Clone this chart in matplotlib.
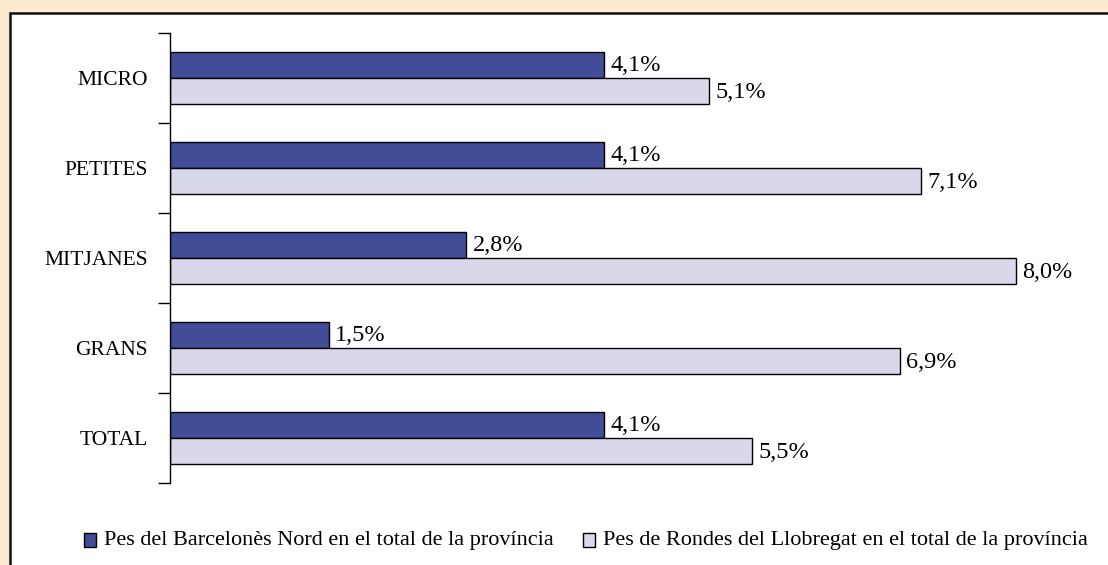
import matplotlib.pyplot as plt
from matplotlib.patches import Rectangle

plt.rcParams['font.family'] = ['Liberation Serif', 'DejaVu Serif']

# dades
categories = ["MICRO", "PETITES", "MITJANES", "GRANS", "TOTAL"]
barcelones_nord = [4.1, 4.1, 2.8, 1.5, 4.1]
rondes_llobregat = [5.1, 7.1, 8.0, 6.9, 5.5]
legend_labels = ["Pes del Barcelonès Nord en el total de la província",
                 "Pes de Rondes del Llobregat en el total de la província"]

dark = '#434C96'
light = '#D9D8EA'

fig = plt.figure(figsize=(11.08, 5.65), dpi=100)
fig.patch.set_facecolor('#FCEBCF')

# panell blanc amb vora
W, H = 1108, 565
panel = Rectangle((10 / W, -0.1), 1.2, (H - 13) / H + 0.1, transform=fig.transFigure,
                  facecolor='white', edgecolor='#111111', linewidth=1.8, zorder=-5)
fig.patches.append(panel)

ax = fig.add_axes([170 / W, 1 - 483 / H, (1085 - 170) / W, 450 / H])
ax.set_facecolor('none')
ax.set_zorder(2)

n = len(categories)
pos = list(range(n))
h = 0.285
ax.barh([p - h / 2 for p in pos], barcelones_nord, height=h, color=dark,
        edgecolor='black', linewidth=1)
ax.barh([p + h / 2 for p in pos], rondes_llobregat, height=h, color=light,
        edgecolor='black', linewidth=1)

for p, v1, v2 in zip(pos, barcelones_nord, rondes_llobregat):
    ax.text(v1 + 0.06, p - h / 2 + 0.06, f"{v1:.1f}%".replace('.', ','),
            va='baseline', ha='left', fontsize=17.5)
    ax.text(v2 + 0.06, p + h / 2 + 0.08, f"{v2:.1f}%".replace('.', ','),
            va='baseline', ha='left', fontsize=17.5)

ax.set_xlim(0, 8.65)
ax.set_ylim(n - 0.5, -0.5)
ax.set_xticks([])
ax.set_yticks([p - 0.5 for p in range(n + 1)])
ax.set_yticklabels([])
ax.set_yticks(pos, minor=True)
ax.set_yticklabels(categories, minor=True, fontsize=15.5)
ax.tick_params(axis='y', which='major', length=9, width=1, direction='out')
ax.tick_params(axis='y', which='minor', length=0, pad=16)
for s in ['top', 'right', 'bottom']:
    ax.spines[s].set_visible(False)
ax.spines['left'].set_linewidth(1)

# llegenda
for x0, col, lab in [(84, dark, legend_labels[0]), (583, light, legend_labels[1])]:
    fig.patches.append(Rectangle((x0 / W, 1 - 547 / H), 12 / W, 14 / H,
                                 transform=fig.transFigure, facecolor=col,
                                 edgecolor='black', linewidth=1))
    fig.text((x0 + 20) / W, 1 - 540 / H, lab, fontsize=16, va='center', ha='left')

fig.savefig('out.png', dpi=100, facecolor=fig.get_facecolor())
